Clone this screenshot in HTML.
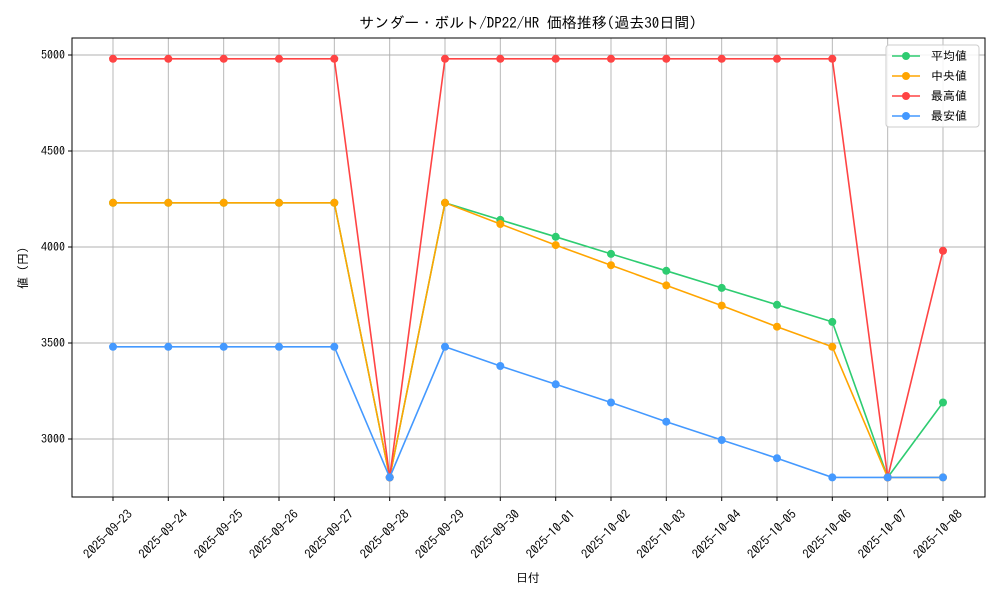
<!DOCTYPE html>
<html><head><meta charset="utf-8"><style>
html,body{margin:0;padding:0;background:#fff;}
svg text{font-family:"IPAGothic","Liberation Sans","Noto Sans CJK JP",sans-serif;fill:#000;}
</style></head><body>
<svg width="1000" height="600" viewBox="0 0 1000 600" xmlns="http://www.w3.org/2000/svg">
<rect width="1000" height="600" fill="#fff"/>
<text x="528" y="28" font-size="15" text-anchor="middle">サンダー・ボルト/DP22/HR 価格推移(過去30日間)</text>
<g stroke="#b0b0b0" stroke-width="0.9">
<line x1="72" x2="985" y1="55" y2="55"/><line x1="72" x2="985" y1="151" y2="151"/><line x1="72" x2="985" y1="247" y2="247"/><line x1="72" x2="985" y1="343" y2="343"/><line x1="72" x2="985" y1="439" y2="439"/>
<line x1="113" x2="113" y1="38" y2="497"/><line x1="168.3" x2="168.3" y1="38" y2="497"/><line x1="223.7" x2="223.7" y1="38" y2="497"/><line x1="279" x2="279" y1="38" y2="497"/><line x1="334.3" x2="334.3" y1="38" y2="497"/><line x1="389.7" x2="389.7" y1="38" y2="497"/><line x1="445" x2="445" y1="38" y2="497"/><line x1="500.3" x2="500.3" y1="38" y2="497"/><line x1="555.7" x2="555.7" y1="38" y2="497"/><line x1="611" x2="611" y1="38" y2="497"/><line x1="666.3" x2="666.3" y1="38" y2="497"/><line x1="721.7" x2="721.7" y1="38" y2="497"/><line x1="777" x2="777" y1="38" y2="497"/><line x1="832.3" x2="832.3" y1="38" y2="497"/><line x1="887.7" x2="887.7" y1="38" y2="497"/><line x1="943" x2="943" y1="38" y2="497"/>
</g>
<rect x="72" y="38" width="913" height="459" fill="none" stroke="#000" stroke-width="1"/>
<g stroke="#000">
<line x1="68" x2="72" y1="55" y2="55"/><line x1="68" x2="72" y1="151" y2="151"/><line x1="68" x2="72" y1="247" y2="247"/><line x1="68" x2="72" y1="343" y2="343"/><line x1="68" x2="72" y1="439" y2="439"/>
<line x1="113" x2="113" y1="497" y2="501"/><line x1="168.3" x2="168.3" y1="497" y2="501"/><line x1="223.7" x2="223.7" y1="497" y2="501"/><line x1="279" x2="279" y1="497" y2="501"/><line x1="334.3" x2="334.3" y1="497" y2="501"/><line x1="389.7" x2="389.7" y1="497" y2="501"/><line x1="445" x2="445" y1="497" y2="501"/><line x1="500.3" x2="500.3" y1="497" y2="501"/><line x1="555.7" x2="555.7" y1="497" y2="501"/><line x1="611" x2="611" y1="497" y2="501"/><line x1="666.3" x2="666.3" y1="497" y2="501"/><line x1="721.7" x2="721.7" y1="497" y2="501"/><line x1="777" x2="777" y1="497" y2="501"/><line x1="832.3" x2="832.3" y1="497" y2="501"/><line x1="887.7" x2="887.7" y1="497" y2="501"/><line x1="943" x2="943" y1="497" y2="501"/>
</g>
<g font-size="12" text-anchor="end">
<text x="65" y="59">5000</text><text x="65" y="155">4500</text><text x="65" y="251">4000</text><text x="65" y="347">3500</text><text x="65" y="443">3000</text>
</g>
<text x="27" y="268" font-size="12" text-anchor="middle" transform="rotate(-90 27 268)">値 (円)</text>
<text x="528" y="582" font-size="12" text-anchor="middle">日付</text>
<g font-size="12.5" text-anchor="end">
<text transform="translate(133,515) rotate(-45)">2025-09-23</text>
<text transform="translate(188.3,515) rotate(-45)">2025-09-24</text>
<text transform="translate(243.7,515) rotate(-45)">2025-09-25</text>
<text transform="translate(299,515) rotate(-45)">2025-09-26</text>
<text transform="translate(354.3,515) rotate(-45)">2025-09-27</text>
<text transform="translate(409.7,515) rotate(-45)">2025-09-28</text>
<text transform="translate(465,515) rotate(-45)">2025-09-29</text>
<text transform="translate(520.3,515) rotate(-45)">2025-09-30</text>
<text transform="translate(575.7,515) rotate(-45)">2025-10-01</text>
<text transform="translate(631,515) rotate(-45)">2025-10-02</text>
<text transform="translate(686.3,515) rotate(-45)">2025-10-03</text>
<text transform="translate(741.7,515) rotate(-45)">2025-10-04</text>
<text transform="translate(797,515) rotate(-45)">2025-10-05</text>
<text transform="translate(852.3,515) rotate(-45)">2025-10-06</text>
<text transform="translate(907.7,515) rotate(-45)">2025-10-07</text>
<text transform="translate(963,515) rotate(-45)">2025-10-08</text>
</g>
<g fill="none" stroke-width="1.6">
<polyline stroke="#2ecc71" points="113,202.8 168.3,202.8 223.7,202.8 279,202.8 334.3,202.8 389.7,477.4 445,202.8 500.3,219.9 555.7,236.8 611,253.9 666.3,270.8 721.7,287.9 777,304.8 832.3,321.9 887.7,477.4 943,402.5"/>
<polyline stroke="#ffa500" points="113,202.8 168.3,202.8 223.7,202.8 279,202.8 334.3,202.8 389.7,477.4 445,202.8 500.3,224 555.7,245.1 611,265.2 666.3,285.4 721.7,305.6 777,326.7 832.3,346.8 887.7,477.4 943,477.4"/>
<polyline stroke="#ff4444" points="113,58.8 168.3,58.8 223.7,58.8 279,58.8 334.3,58.8 389.7,477.4 445,58.8 500.3,58.8 555.7,58.8 611,58.8 666.3,58.8 721.7,58.8 777,58.8 832.3,58.8 887.7,477.4 943,250.8"/>
<polyline stroke="#4499ff" points="113,346.8 168.3,346.8 223.7,346.8 279,346.8 334.3,346.8 389.7,477.4 445,346.8 500.3,366 555.7,384.3 611,402.5 666.3,421.7 721.7,440 777,458.2 832.3,477.4 887.7,477.4 943,477.4"/>
</g>
<g stroke="none">
<g fill="#2ecc71"><circle cx="113" cy="202.8" r="4"/><circle cx="168.3" cy="202.8" r="4"/><circle cx="223.7" cy="202.8" r="4"/><circle cx="279" cy="202.8" r="4"/><circle cx="334.3" cy="202.8" r="4"/><circle cx="389.7" cy="477.4" r="4"/><circle cx="445" cy="202.8" r="4"/><circle cx="500.3" cy="219.9" r="4"/><circle cx="555.7" cy="236.8" r="4"/><circle cx="611" cy="253.9" r="4"/><circle cx="666.3" cy="270.8" r="4"/><circle cx="721.7" cy="287.9" r="4"/><circle cx="777" cy="304.8" r="4"/><circle cx="832.3" cy="321.9" r="4"/><circle cx="887.7" cy="477.4" r="4"/><circle cx="943" cy="402.5" r="4"/></g>
<g fill="#ffa500"><circle cx="113" cy="202.8" r="4"/><circle cx="168.3" cy="202.8" r="4"/><circle cx="223.7" cy="202.8" r="4"/><circle cx="279" cy="202.8" r="4"/><circle cx="334.3" cy="202.8" r="4"/><circle cx="389.7" cy="477.4" r="4"/><circle cx="445" cy="202.8" r="4"/><circle cx="500.3" cy="224" r="4"/><circle cx="555.7" cy="245.1" r="4"/><circle cx="611" cy="265.2" r="4"/><circle cx="666.3" cy="285.4" r="4"/><circle cx="721.7" cy="305.6" r="4"/><circle cx="777" cy="326.7" r="4"/><circle cx="832.3" cy="346.8" r="4"/><circle cx="887.7" cy="477.4" r="4"/><circle cx="943" cy="477.4" r="4"/></g>
<g fill="#ff4444"><circle cx="113" cy="58.8" r="4"/><circle cx="168.3" cy="58.8" r="4"/><circle cx="223.7" cy="58.8" r="4"/><circle cx="279" cy="58.8" r="4"/><circle cx="334.3" cy="58.8" r="4"/><circle cx="389.7" cy="477.4" r="4"/><circle cx="445" cy="58.8" r="4"/><circle cx="500.3" cy="58.8" r="4"/><circle cx="555.7" cy="58.8" r="4"/><circle cx="611" cy="58.8" r="4"/><circle cx="666.3" cy="58.8" r="4"/><circle cx="721.7" cy="58.8" r="4"/><circle cx="777" cy="58.8" r="4"/><circle cx="832.3" cy="58.8" r="4"/><circle cx="887.7" cy="477.4" r="4"/><circle cx="943" cy="250.8" r="4"/></g>
<g fill="#4499ff"><circle cx="113" cy="346.8" r="4"/><circle cx="168.3" cy="346.8" r="4"/><circle cx="223.7" cy="346.8" r="4"/><circle cx="279" cy="346.8" r="4"/><circle cx="334.3" cy="346.8" r="4"/><circle cx="389.7" cy="477.4" r="4"/><circle cx="445" cy="346.8" r="4"/><circle cx="500.3" cy="366" r="4"/><circle cx="555.7" cy="384.3" r="4"/><circle cx="611" cy="402.5" r="4"/><circle cx="666.3" cy="421.7" r="4"/><circle cx="721.7" cy="440" r="4"/><circle cx="777" cy="458.2" r="4"/><circle cx="832.3" cy="477.4" r="4"/><circle cx="887.7" cy="477.4" r="4"/><circle cx="943" cy="477.4" r="4"/></g>
</g>
<rect x="886" y="45" width="93" height="82" rx="3" fill="#fff" fill-opacity="0.85" stroke="#ccc"/>
<g stroke-width="1.6">
<line x1="892" x2="920" y1="56" y2="56" stroke="#2ecc71"/><circle cx="906" cy="56" r="4" fill="#2ecc71"/>
<line x1="892" x2="920" y1="76" y2="76" stroke="#ffa500"/><circle cx="906" cy="76" r="4" fill="#ffa500"/>
<line x1="892" x2="920" y1="96" y2="96" stroke="#ff4444"/><circle cx="906" cy="96" r="4" fill="#ff4444"/>
<line x1="892" x2="920" y1="116" y2="116" stroke="#4499ff"/><circle cx="906" cy="116" r="4" fill="#4499ff"/>
</g>
<g font-size="12">
<text x="931" y="60">平均値</text><text x="931" y="80">中央値</text><text x="931" y="100">最高値</text><text x="931" y="120">最安値</text>
</g>
</svg>
</body></html>
